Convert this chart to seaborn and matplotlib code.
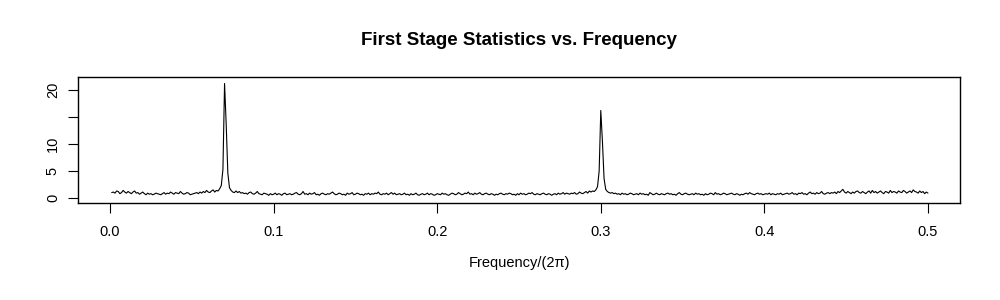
import numpy as np
import pandas as pd
import matplotlib
matplotlib.use('Agg')
import matplotlib.pyplot as plt
import seaborn as sns

# --- data: first stage statistic (step 0.001) ---
freq = np.arange(1, 501) / 1000.0

stat = [
    1.0, 1.1, 0.9, 1.3, 1.2, 0.8, 1.0, 1.4, 1.1, 0.9, 1.2, 1.0, 0.8, 1.1, 1.3, 0.9, 1.0, 0.7, 0.9, 1.1,
    0.8, 0.6, 0.9, 0.7, 0.8, 0.6, 0.7, 0.9, 0.8, 0.7, 0.6, 0.8, 1.0, 0.7, 0.9, 0.8, 1.1, 0.9, 0.7, 1.0,
    0.9, 0.8, 1.2, 0.9, 0.7, 0.8, 1.0, 0.9, 0.6, 0.7, 0.8, 0.9, 1.0, 0.8, 1.1, 0.9, 1.2, 1.0, 1.4, 1.1,
    1.0, 1.3, 1.5, 1.1, 1.4, 1.3, 1.7, 2.3, 5.3, 21.2, 13.6, 4.6, 1.9, 1.4, 1.1, 1.0, 1.3, 1.0, 1.2, 0.9,
    1.0, 0.8, 0.9, 0.7, 1.0, 1.1, 0.8, 0.7, 0.9, 1.2, 0.8, 0.7, 0.6, 0.9, 0.8, 0.7, 0.5, 0.8, 0.6, 0.7,
    0.9, 0.6, 0.8, 0.7, 0.5, 0.8, 0.9, 0.6, 0.7, 0.8, 0.6, 0.7, 0.9, 1.0, 0.7, 0.6, 0.8, 1.2, 0.7, 0.8,
    0.6, 0.9, 0.7, 0.8, 1.0, 0.6, 0.7, 0.5, 0.8, 0.9, 0.7, 0.6, 0.8, 0.7, 0.9, 1.1, 0.8, 0.6, 0.7, 0.9,
    0.8, 0.6, 0.7, 0.5, 0.9, 0.7, 0.8, 1.0, 0.6, 0.7, 0.9, 0.8, 0.6, 0.7, 0.5, 0.8, 0.7, 0.9, 0.6, 0.8,
    0.7, 0.9, 0.8, 1.1, 0.7, 0.6, 0.8, 0.7, 0.9, 0.6, 0.8, 1.0, 0.7, 0.9, 0.6, 0.7, 0.8, 0.6, 0.7, 0.9,
    0.6, 0.7, 0.5, 0.8, 0.6, 0.7, 0.9, 0.6, 0.5, 0.7, 0.8, 0.6, 0.7, 0.9, 0.6, 0.8, 0.7, 0.5, 0.6, 0.8,
    0.7, 0.6, 0.9, 0.7, 0.8, 0.6, 0.5, 0.7, 0.9, 0.8, 0.6, 0.7, 1.0, 0.8, 0.6, 0.7, 0.9, 0.8, 1.1, 0.7,
    0.8, 0.6, 0.9, 0.7, 0.8, 1.0, 0.7, 0.6, 0.8, 0.9, 0.7, 0.6, 0.8, 0.7, 0.5, 0.7, 0.6, 0.8, 0.9, 0.7,
    0.6, 0.8, 0.7, 0.9, 0.8, 0.6, 0.7, 0.5, 0.8, 0.6, 0.9, 0.7, 0.8, 0.6, 0.7, 0.9, 0.8, 1.0, 0.7, 0.6,
    0.8, 0.7, 0.6, 0.8, 0.9, 0.7, 0.6, 0.8, 0.7, 0.5, 0.7, 0.8, 0.6, 0.9, 0.7, 0.8, 1.0, 0.7, 0.9, 0.8,
    0.7, 0.9, 0.8, 1.0, 0.7, 0.8, 1.1, 0.9, 0.8, 1.0, 1.2, 0.9, 1.3, 1.1, 1.3, 1.2, 1.5, 2.1, 5.0, 16.2,
    10.5, 3.6, 1.6, 1.2, 1.0, 0.9, 1.0, 0.8, 0.9, 0.7, 0.8, 0.6, 0.9, 0.7, 0.8, 0.6, 0.7, 0.9, 0.8, 0.6,
    0.7, 0.8, 0.6, 0.9, 0.7, 0.8, 0.6, 0.7, 0.5, 1.0, 0.8, 0.6, 0.7, 0.9, 0.7, 0.6, 0.8, 0.7, 0.6, 0.8,
    0.9, 0.7, 0.8, 0.6, 0.7, 0.5, 0.8, 1.0, 0.7, 0.6, 0.8, 0.9, 0.7, 0.6, 0.7, 0.8, 0.6, 0.9, 0.7, 0.8,
    0.6, 0.7, 0.5, 0.8, 0.6, 0.7, 0.9, 0.8, 0.6, 1.0, 0.7, 0.8, 0.6, 0.7, 0.9, 0.8, 0.6, 0.7, 0.8, 0.9,
    0.7, 0.6, 0.8, 0.7, 0.5, 0.7, 0.6, 0.8, 0.9, 0.7, 1.0, 0.8, 0.7, 0.6, 0.8, 0.9, 0.7, 0.8, 0.6, 0.7,
    0.8, 0.7, 0.9, 0.6, 0.8, 0.7, 0.6, 0.8, 0.7, 0.9, 0.6, 0.7, 0.8, 0.9, 0.7, 0.8, 1.0, 0.7, 0.8, 0.6,
    0.9, 0.8, 1.0, 0.7, 0.8, 0.6, 0.9, 1.1, 0.8, 0.9, 0.7, 1.0, 0.8, 0.9, 1.2, 0.8, 0.7, 0.9, 1.0, 0.8,
    1.0, 0.9, 1.1, 0.8, 1.2, 1.0, 1.3, 1.6, 1.1, 0.9, 1.2, 1.0, 0.8, 1.1, 0.9, 1.2, 1.3, 1.0, 0.9, 1.2,
    1.0, 0.8, 1.1, 1.3, 0.9, 1.4, 1.0, 1.2, 0.9, 1.1, 1.3, 1.0, 0.8, 1.2, 1.1, 0.9, 1.4, 1.0, 1.2, 1.1,
    0.9, 1.3, 1.1, 1.0, 1.4, 1.2, 0.9, 1.1, 1.3, 1.0, 1.5, 1.2, 1.1, 0.9, 1.3, 1.0, 1.2, 0.8, 1.1, 0.9,
]

x_ticks = [0.0, 0.1, 0.2, 0.3, 0.4, 0.5]
x_labels = ['0.0', '0.1', '0.2', '0.3', '0.4', '0.5']
y_ticks = [0, 5, 10, 15, 20]
y_labels = ['0', '5', '10', '', '20']

df = pd.DataFrame({'freq': freq, 'stat': stat})

# --- plotting (R base-graphics look) ---
sns.set_style('white')
plt.rcParams['font.family'] = ['Liberation Sans', 'DejaVu Sans']
plt.rcParams['text.color'] = 'black'

fig = plt.figure(figsize=(10, 3), dpi=100)
ax = fig.add_axes([0.078, 0.3233, 0.882, 0.42])

sns.lineplot(data=df, x='freq', y='stat', ax=ax, color='black', linewidth=0.8)

ax.set_xlim(-0.0196, 0.5196)
ax.set_ylim(-0.93, 22.4)

for s in ax.spines.values():
    s.set_color('black')
    s.set_linewidth(1.0)

ax.set_xticks(x_ticks)
ax.set_xticklabels(x_labels, fontsize=10.5)
ax.set_yticks(y_ticks)
ax.set_yticklabels(y_labels, fontsize=10.5, rotation=90, va='center')
ax.tick_params(axis='both', direction='out', length=7, width=0.8, color='black',
               labelcolor='black', bottom=True, left=True)
ax.tick_params(axis='x', pad=9)
ax.tick_params(axis='y', pad=6)

ax.set_xlabel('Frequency/(2\u03c0)', fontsize=10.5, labelpad=12, color='black')
ax.set_ylabel('')
ax.set_title('First Stage Statistics vs. Frequency', fontsize=13.5,
             fontweight='bold', pad=23, color='black')

fig.savefig('out.png', dpi=100, facecolor='white')
